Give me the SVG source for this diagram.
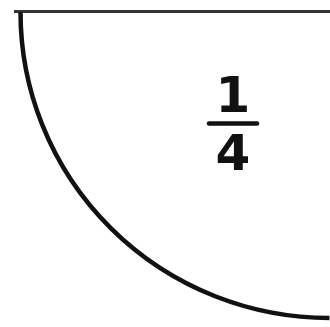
<svg xmlns="http://www.w3.org/2000/svg" width="330" height="327" viewBox="0 0 330 327">
<style>
.num{font-family:"DejaVu Sans",sans-serif;font-weight:bold;font-size:50px;fill:#111;text-anchor:middle}
</style>
<rect width="330" height="327" fill="#fff"/>
<g id="shape" fill="none">
<line x1="14" y1="11.5" x2="330" y2="11.5" stroke-width="3" stroke="#333"/>
<path d="M20.5,12 A309,306 0 0 0 329.5,318" stroke-width="4.5" stroke="#111"/>
</g>
<g id="label">
<text class="num" x="233" y="112">1</text>
<line x1="209" y1="123.5" x2="257" y2="123.5" stroke="#111" stroke-width="4.5" stroke-linecap="round"/>
<text class="num" x="233" y="170">4</text>
</g>
</svg>
